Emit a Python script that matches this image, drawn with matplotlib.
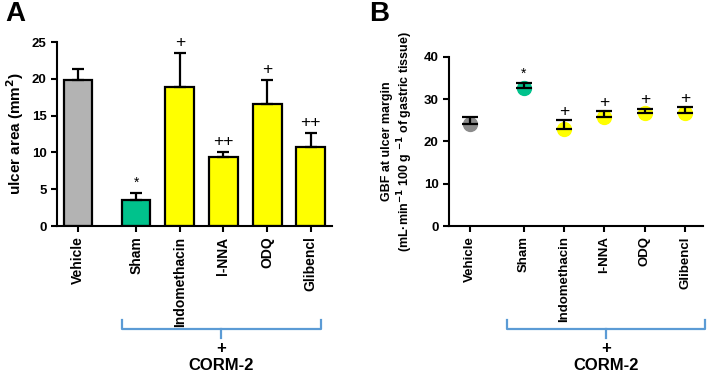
import matplotlib
matplotlib.use('agg')
import matplotlib.pyplot as plt
from matplotlib.transforms import blended_transform_factory
from matplotlib.lines import Line2D

plt.rcParams['font.family'] = ['Liberation Sans', 'DejaVu Sans']
plt.rcParams['font.weight'] = 'bold'

groups = ['Vehicle', 'Sham', 'Indomethacin', 'l-NNA', 'ODQ', 'Glibencl']
xpos = [0, 1.33, 2.33, 3.33, 4.33, 5.33]
colors = ['#b3b3b3', '#00c28c', '#ffff00', '#ffff00', '#ffff00', '#ffff00']
marks = ['', '*', '+', '++', '+', '++']

# panel A: ulcer area (mm2)
ulcer_mean = [19.8, 3.5, 18.9, 9.4, 16.6, 10.8]
ulcer_err = [1.5, 1.0, 4.6, 0.6, 3.3, 1.9]

# panel B: GBF at ulcer margin
gbf_mean = [24.1, 32.5, 22.9, 25.8, 26.6, 26.8]
gbf_err = [1.7, 1.4, 2.1, 1.4, 1.1, 1.2]
gbf_colors = ['#8c8c8c', '#00c28c', '#ffff00', '#ffff00', '#ffff00', '#ffff00']

fig = plt.figure(figsize=(7.09, 3.74), dpi=100)
axA = fig.add_axes([0.0804, 0.3957, 0.3876, 0.492])
axB = fig.add_axes([0.633, 0.3957, 0.3585, 0.4527])

def style(ax, fs):
    for s in ['top', 'right']:
        ax.spines[s].set_visible(False)
    for s in ['left', 'bottom']:
        ax.spines[s].set_linewidth(1.5)
    ax.tick_params(width=1.5, length=4, labelsize=9.5)
    ax.set_xticks(xpos)
    ax.set_xticklabels(groups, rotation=90, fontweight='bold', fontsize=fs)
    for t in ax.get_yticklabels():
        t.set_fontweight('bold')

# A
axA.bar(xpos, ulcer_mean, width=0.66, color=colors, edgecolor='black', linewidth=1.6, zorder=2)
axA.errorbar(xpos, ulcer_mean, yerr=[[0] * 6, ulcer_err], fmt='none', ecolor='black',
             elinewidth=1.6, capsize=4.5, capthick=1.6, zorder=3)
for x, m, e, t in zip(xpos, ulcer_mean, ulcer_err, marks):
    if t:
        axA.text(x, m + e + 0.4, t, ha='center', va='bottom',
                 fontsize=10 if t == '*' else 12.5, fontweight='normal')
axA.set_ylim(0, 25)
axA.set_xlim(-0.48, 5.81)
axA.set_yticks([0, 5, 10, 15, 20, 25])
axA.set_ylabel('ulcer area (mm$^\\mathbf{2}$)', fontsize=11, fontweight='bold', labelpad=4)
style(axA, 10)

# B
for x, m, e, c in zip(xpos, gbf_mean, gbf_err, gbf_colors):
    axB.plot(x, m, 'o', color=c, markersize=10, zorder=2)
axB.errorbar(xpos, gbf_mean, yerr=[[0] * 6, gbf_err], fmt='none', ecolor='black',
             elinewidth=1.6, capsize=5.5, capthick=1.6, zorder=3)
for x, m, e, t in zip(xpos, gbf_mean, gbf_err, marks):
    if t:
        axB.text(x, m + e + 0.3, t[0], ha='center', va='bottom',
                 fontsize=10 if t == '*' else 12.5, fontweight='normal')
axB.set_ylim(0, 40)
axB.set_xlim(-0.52, 5.77)
axB.set_yticks([0, 10, 20, 30, 40])
axB.set_ylabel('GBF at ulcer margin\n(mL·min$^{\\mathbf{-1}}$ 100 g $^{\\mathbf{-1}}$ of gastric tissue)',
               fontsize=9, fontweight='bold', labelpad=6)
style(axB, 9.5)

# CORM-2 brackets
bc = '#5b9bd5'
for ax, x0, x1 in [(axA, 1.0, 5.57), (axB, 0.92, 5.82)]:
    tr = blended_transform_factory(ax.transData, fig.transFigure)
    xm = (x0 + x1) / 2
    y_top, y_mid, y_low = 1 - 320 / 374, 1 - 329 / 374, 1 - 338 / 374
    for xs, ys in [([x0, x0, x1, x1], [y_top, y_mid, y_mid, y_top]), ([xm, xm], [y_mid, y_low])]:
        fig.add_artist(Line2D(xs, ys, transform=tr, color=bc, linewidth=1.6))
    fig.text(xm, 1 - 349 / 374, '+', transform=tr, ha='center', va='center', fontsize=12, fontweight='bold')
    fig.text(xm, 1 - 366 / 374, 'CORM-2', transform=tr, ha='center', va='center', fontsize=12, fontweight='bold')

fig.text(0.007, 0.963, 'A', fontsize=20, fontweight='bold', va='center')
fig.text(0.52, 0.963, 'B', fontsize=20, fontweight='bold', va='center')

fig.savefig('out.png', dpi=100)
